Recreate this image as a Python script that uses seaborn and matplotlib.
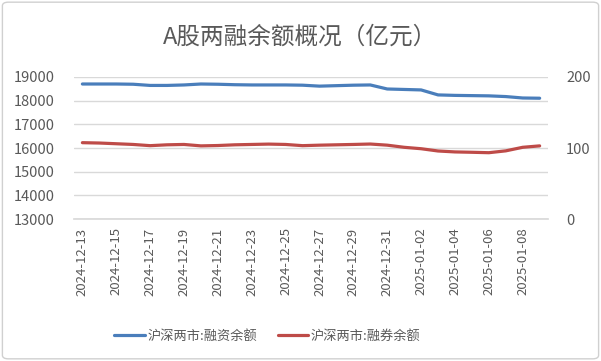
import pandas as pd
import seaborn as sns
import matplotlib.pyplot as plt
from matplotlib.patches import FancyBboxPatch

# calendar days 2024-12-13 .. 2025-01-09
dates = pd.date_range("2024-12-13", "2025-01-09", freq="D").strftime("%Y-%m-%d").tolist()

# 沪深两市:融资余额 (left axis, 亿元)
financing = [18700, 18700, 18700, 18690, 18640, 18640, 18660, 18700, 18690, 18670,
             18660, 18660, 18660, 18650, 18610, 18630, 18650, 18660, 18490, 18470,
             18450, 18240, 18220, 18210, 18200, 18170, 18110, 18100]

# 沪深两市:融券余额 (right axis, 亿元)
lending = [107.5, 107, 106, 105, 103.3, 104.5, 105, 103, 103.5, 104.5,
           105, 105.5, 105, 103.3, 104, 104.5, 105, 105.6, 104, 101,
           99, 95.8, 94.5, 94, 93.4, 96, 101, 103]

df = pd.DataFrame({"date": dates, "financing": financing, "lending": lending})
df["pos"] = range(len(df))

sns.set_theme(style="white")
plt.rcParams["font.family"] = ["Noto Sans CJK SC", "DejaVu Sans"]
plt.rcParams["ytick.major.pad"] = 13

blue = "#4A7EBB"
red = "#BE4B48"
grid = "#D9D9D9"
text = "#595959"

fig = plt.figure(figsize=(6.01, 3.61), dpi=100)
fig.patches.append(FancyBboxPatch((0.004, 0.006), 0.992, 0.988, boxstyle="round,pad=0,rounding_size=0.01",
                                  transform=fig.transFigure, fill=False, edgecolor="#D0D0D0", linewidth=1))
ax = fig.add_axes([0.123, 0.393, 0.789, 0.394])
ax2 = ax.twinx()

sns.lineplot(data=df, x="pos", y="financing", ax=ax, color=blue, linewidth=2.3, label="沪深两市:融资余额", legend=False)
sns.lineplot(data=df, x="pos", y="lending", ax=ax2, color=red, linewidth=2.3, label="沪深两市:融券余额", legend=False)

ax.set_xlim(-0.5, len(df) - 0.5)
ax.set_ylim(13000, 19000)
ax.set_yticks(range(13000, 19001, 1000))
ax2.set_ylim(0, 200)
ax2.set_yticks([0, 100, 200])

ax.yaxis.grid(True, color=grid, linewidth=1)
ax.set_axisbelow(True)
for a in (ax, ax2):
    for s in a.spines.values():
        s.set_visible(False)
ax.spines["bottom"].set_visible(True)
ax.spines["bottom"].set_color(grid)

ax.set_xticks(df["pos"][::2])
ax.set_xticklabels(df["date"][::2], rotation=90, fontsize=9.5, color=text)
ax.set_xticks([p - 0.5 for p in range(0, len(df) + 1, 2)], minor=True)
ax.tick_params(axis="x", which="major", length=0, pad=6)
ax.tick_params(axis="x", which="minor", length=5, color=grid, width=1)
ax.tick_params(axis="y", length=0, labelsize=10.5, labelcolor=text, pad=14)
ax2.tick_params(axis="y", which="major", length=0, labelsize=10.5, labelcolor=text, pad=13)
ax.set_xlabel("")
ax.set_ylabel("")
ax2.set_ylabel("")

fig.text(0.5, 0.898, "A股两融余额概况（亿元）", ha="center", va="center", fontsize=17, color=text)

h1, l1 = ax.get_legend_handles_labels()
h2, l2 = ax2.get_legend_handles_labels()
fig.legend(h1 + h2, l1 + l2, loc="center", bbox_to_anchor=(0.445, 0.068), ncol=2, frameon=False,
           fontsize=9.5, labelcolor=text, handlelength=2.3, handletextpad=0.2, columnspacing=1.6)

plt.savefig("out.png", dpi=100)
